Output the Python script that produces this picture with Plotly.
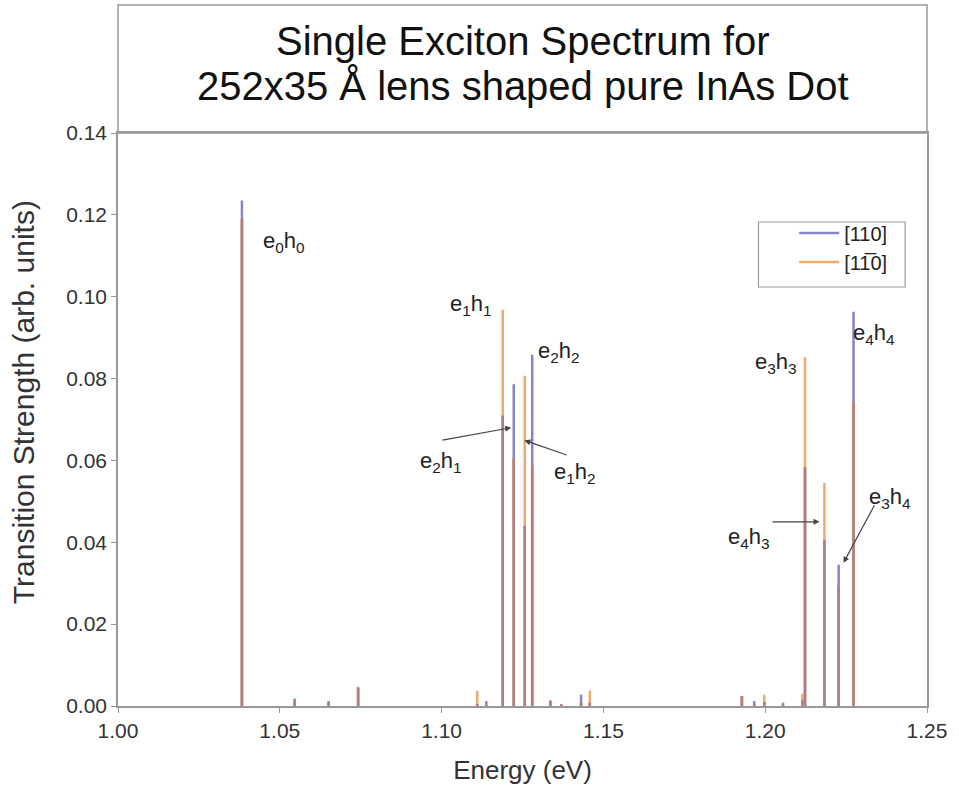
import plotly.graph_objects as go

# ---- data ----
energy = [1.0383, 1.0546, 1.0651, 1.0742, 1.1110, 1.1138, 1.1189, 1.1223, 1.1257,
          1.1280, 1.1336, 1.1370, 1.1431, 1.1458, 1.1928, 1.1966, 1.1997, 1.2055,
          1.2115, 1.2123, 1.2183, 1.2227, 1.2273]
strength_110 = [0.1235, 0.0018, 0.0012, 0.0045, 0.0005, 0.0012, 0.0710, 0.0786, 0.0440,
                0.0858, 0.0014, 0.0005, 0.0028, 0.0008, 0.0024, 0.0012, 0.0010, 0.0008,
                0.0015, 0.0583, 0.0405, 0.0345, 0.0963]
strength_1m10 = [0.1190, 0.0012, 0.0010, 0.0047, 0.0037, 0.0003, 0.0968, 0.0605, 0.0807,
                 0.0590, 0.0012, 0.0003, 0.0008, 0.0038, 0.0025, 0.0005, 0.0028, 0.0003,
                 0.0030, 0.0852, 0.0545, 0.0295, 0.0742]

labels = ["e<sub>0</sub>h<sub>0</sub>", "e<sub>1</sub>h<sub>1</sub>", "e<sub>2</sub>h<sub>2</sub>",
          "e<sub>3</sub>h<sub>3</sub>", "e<sub>4</sub>h<sub>4</sub>"]
label_x = [1.0512, 1.1090, 1.1362, 1.2033, 1.2336]
label_y = [0.1133, 0.0979, 0.0866, 0.0839, 0.0910]

arrow_labels = ["e<sub>2</sub>h<sub>1</sub>", "e<sub>1</sub>h<sub>2</sub>",
                "e<sub>4</sub>h<sub>3</sub>", "e<sub>3</sub>h<sub>4</sub>"]
arrow_label_x = [1.0998, 1.1412, 1.1950, 1.2387]
arrow_label_y = [0.0595, 0.0570, 0.0411, 0.0509]
arrow_tail_x = [1.0998, 1.1391, 1.2018, 1.2340]
arrow_tail_y = [0.0649, 0.0612, 0.0450, 0.0494]
arrow_head_x = [1.1215, 1.1256, 1.2168, 1.2242]
arrow_head_y = [0.0680, 0.0649, 0.0450, 0.0350]

title_lines = ["Single Exciton Spectrum for", "252x35 Å lens shaped pure InAs Dot"]

BLUE = "#8484c8"
ORANGE = "#eeaa6c"
OVERLAP = "#b37d7d"
FONT = "Liberation Sans, Arial, sans-serif"


def sticks(xs, ys):
    px, py = [], []
    for x, y in zip(xs, ys):
        px += [x, x, None]
        py += [0, y, None]
    return px, py


fig = go.Figure()
bx, by = sticks(energy, strength_110)
ox, oy = sticks(energy, strength_1m10)
overlap = [min(a, b) for a, b in zip(strength_110, strength_1m10)]
vx, vy = sticks(energy, overlap)

fig.add_trace(go.Scatter(x=bx, y=by, mode="lines", name="[110]",
                         line=dict(color=BLUE, width=2.5)))
fig.add_trace(go.Scatter(x=ox, y=oy, mode="lines", name="[11\u03050]",
                         line=dict(color=ORANGE, width=2.5)))
fig.add_trace(go.Scatter(x=vx, y=vy, mode="lines", showlegend=False,
                         line=dict(color=OVERLAP, width=2.5)))

annotations = []
for t, x, y in zip(labels, label_x, label_y):
    annotations.append(dict(x=x, y=y, xref="x", yref="y", text=t, showarrow=False,
                            font=dict(size=22, color="#222", family=FONT)))
for t, x, y in zip(arrow_labels, arrow_label_x, arrow_label_y):
    annotations.append(dict(x=x, y=y, xref="x", yref="y", text=t, showarrow=False,
                            font=dict(size=22, color="#222", family=FONT)))
for tx, ty, hx, hy in zip(arrow_tail_x, arrow_tail_y, arrow_head_x, arrow_head_y):
    annotations.append(dict(x=hx, y=hy, ax=tx, ay=ty, xref="x", yref="y",
                            axref="x", ayref="y", text="", showarrow=True,
                            arrowhead=2, arrowsize=1, arrowwidth=1.2,
                            arrowcolor="#444"))

# title, two lines inside the box above the plot
for t, yy in zip(title_lines, [1.1606, 1.0821]):
    annotations.append(dict(x=0.5, y=yy, xref="paper", yref="paper", text=t,
                            showarrow=False, xanchor="center", yanchor="middle",
                            font=dict(size=40, color="#111", family=FONT)))

# y-axis title
annotations.append(dict(x=-0.1176, y=0.53, xref="paper", yref="paper",
                        text="Transition Strength (arb. units)", textangle=-90,
                        showarrow=False, xanchor="center", yanchor="middle",
                        font=dict(size=30, color="#333", family=FONT)))

fig.update_layout(
    width=959, height=798,
    margin=dict(l=118, r=25, t=133, b=92),
    paper_bgcolor="white", plot_bgcolor="white",
    font=dict(family=FONT, color="#333"),
    annotations=annotations,
    shapes=[
        dict(type="rect", xref="paper", yref="paper", x0=0, x1=1,
             y0=1, y1=1.2234, line=dict(color="#999", width=1.5)),
        dict(type="rect", xref="paper", yref="paper", x0=0.7917, x1=0.9730,
             y0=0.7312, y1=0.8447, line=dict(color="#999", width=1.2),
             fillcolor="white", layer="below"),
    ],
    legend=dict(x=0.8358, y=0.800, xanchor="left", yanchor="middle",
                borderwidth=0, bgcolor="rgba(0,0,0,0)", itemwidth=40,
                font=dict(size=20, family=FONT, color="#222")),
    xaxis=dict(range=[1.0, 1.25], dtick=0.05, tick0=1.0, tickformat=".2f",
               showgrid=False, zeroline=False, showline=True, mirror=True,
               linecolor="#999", linewidth=1.5, ticks="outside", ticklen=5,
               tickcolor="#999", tickfont=dict(size=21, color="#333"),
               ticklabeloverflow="allow",
               title=dict(text="Energy (eV)", font=dict(size=26, color="#333"),
                          standoff=20)),
    yaxis=dict(range=[0, 0.14], dtick=0.02, tick0=0, tickformat=".2f",
               showgrid=False, zeroline=False, showline=True, mirror=True,
               linecolor="#999", linewidth=1.5, ticks="outside", ticklen=5,
               tickcolor="#999", tickfont=dict(size=21, color="#333")),
)

fig.write_html("out.html", config={"displayModeBar": False},
               post_script="document.body.style.margin='0';")
